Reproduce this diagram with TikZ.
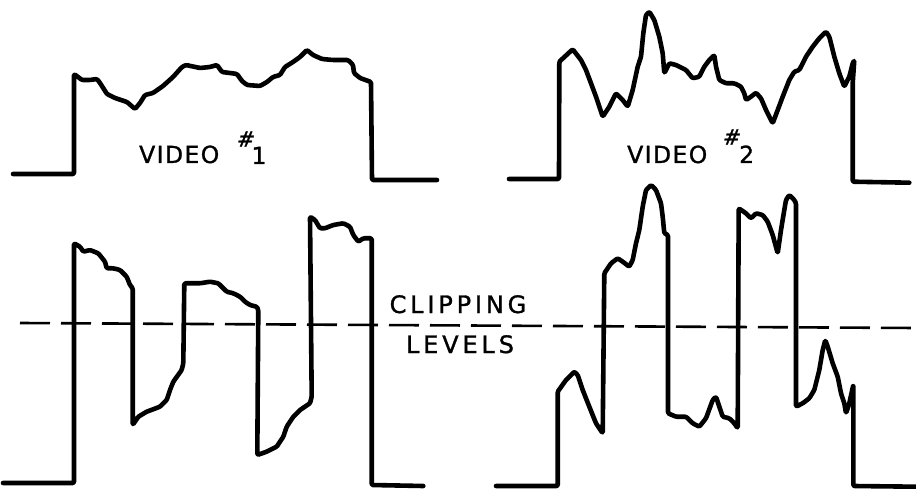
\documentclass[tikz,border=0pt]{standalone}
\usepackage{fontspec}
\setmainfont{DejaVu Sans}
\newfontfamily\lblfont[LetterSpace=6,FakeBold=1.2]{DejaVu Sans}
\newfontfamily\clipfont[LetterSpace=16,FakeBold=1.2]{DejaVu Sans}
\newfontfamily\hashfont[FakeBold=1.5,FakeSlant=0.15]{DejaVu Sans}
\begin{document}
\begin{tikzpicture}[x=1pt,y=-1pt,
  wave/.style={line width=4.6pt,line join=round,line cap=round,rounded corners=1.2pt},
  clipline/.style={line width=2.6pt,dash pattern=on 30pt off 11pt},
  lbl/.style={inner sep=0pt,font=\lblfont\fontsize{23.5}{24}\selectfont},
  cliplbl/.style={inner sep=0pt,font=\clipfont\fontsize{24}{25}\selectfont},
  sup/.style={inner sep=0pt,font=\hashfont\fontsize{21}{22}\selectfont}]
\useasboundingbox (0,0) rectangle (916,489);
\fill[white] (0,0) rectangle (916,489);

% ---------- VIDEO #1 ----------
\draw[wave] (13,174) -- (74,174) -- (74,74) -- (82,80) -- (90,80) -- (97,79) -- (100,83)
  -- (107,94) -- (115,98) -- (127,102) -- (135,109) -- (140,103) -- (145,95) -- (153,93)
  -- (163,86) -- (173,77) -- (182,67) -- (186,65) -- (200,68) -- (210,67) -- (217,65)
  -- (222,72) -- (230,73) -- (237,74) -- (242,81) -- (247,85) -- (260,86) -- (267,82)
  -- (273,77) -- (280,75) -- (285,67) -- (293,62) -- (300,57) -- (307,50) -- (313,55)
  -- (322,59) -- (333,60) -- (348,60) -- (353,65) -- (354,73) -- (360,78) -- (371,82)
  -- (372,180) -- (437,180);
\node[lbl,anchor=base west] (v1) at (139,163) {VIDEO};
\node[sup] (h1) at (245,139) {\#};
\node[lbl,anchor=base] (n1) at (259,164) {1};

% ---------- VIDEO #2 ----------
\draw[wave] (509,179) -- (559,179) -- (559.3,61.7) -- (572.7,49.3) -- (581,60) -- (586,70)
  -- (591,83.3) -- (596,96.7) -- (602.7,116.7) -- (609.3,106.7) -- (616,93.3) -- (622.7,100)
  -- (627.7,106.7) -- (632.7,90) -- (637.7,66.7) -- (641,56.7) -- (643.3,33.3) -- (646,15)
  -- (649.3,11.7) -- (654.3,20) -- (659.3,36.7) -- (662.7,53.3) -- (664.3,73.3) -- (669.3,63.3)
  -- (676,65) -- (686,70) -- (692.7,78.3) -- (699.3,76.7) -- (704.3,66.7) -- (709.3,60)
  -- (714.3,55) -- (716,66.7) -- (719.3,80) -- (726,83.3) -- (734.3,83.3) -- (741,86.7)
  -- (744.3,93.3) -- (746,100) -- (751,96.7) -- (756,92.7) -- (761,98.3) -- (766,110)
  -- (772.7,123.3) -- (777.7,110) -- (782.7,96.7) -- (789.3,80) -- (794.3,71.7) -- (799.3,70)
  -- (806,56.7) -- (812.7,46.7) -- (819.3,38.3) -- (826,31.7) -- (829.3,36.7) -- (834.3,56.7)
  -- (839.3,73.3) -- (844.3,86.7) -- (849.3,76.7) -- (852.7,63.3) -- (854.3,60)
  -- (852.7,83.3) -- (852.7,181.7) -- (909.3,182.7);
\node[lbl,anchor=base west] (v2) at (627,163) {VIDEO};
\node[sup] (h2) at (731,137) {\#};
\node[lbl,anchor=base west] (n2) at (739,163) {2};

% ---------- clipped #1 ----------
\draw[wave] (3,483) -- (74,483) -- (74,243.3) -- (80,246.7) -- (83.3,251.7) -- (90,250)
  -- (98.3,253.3) -- (105,261.7) -- (106.7,268.3) -- (113.3,268.3) -- (120,270) -- (126.7,276.7)
  -- (130,285) -- (132.7,288.3) -- (132.7,425) -- (138.3,416.7) -- (146.7,411.7) -- (160,406.7)
  -- (166.7,400) -- (170,390) -- (173.3,381.7) -- (181.7,370) -- (183.3,363.3) -- (184.3,283.3)
  -- (200,283.3) -- (210,281.7) -- (218.3,283.3) -- (223.3,288.3) -- (226.7,291.7) -- (233.3,293.3)
  -- (240,296.7) -- (245,301.7) -- (250,305) -- (256.7,306.7) -- (258.3,310) -- (257.3,455)
  -- (266.7,451.7) -- (276.7,446.7) -- (283.3,436.7) -- (286.7,426.7) -- (293.3,416.7) -- (300,410)
  -- (310,403.3) -- (311.7,396.7) -- (310,216.7) -- (315,220) -- (320,228.3) -- (325,228.3)
  -- (333.3,225) -- (343.3,223.3) -- (350,226.7) -- (353.3,235) -- (358.3,241.7) -- (363.3,238.3)
  -- (371.7,238.3) -- (371.7,485) -- (423.3,486);

% ---------- clipped #2 ----------
\draw[wave] (496,486) -- (557.7,486) -- (557.7,391.7) -- (566,380) -- (574.3,371.7) -- (577.7,375)
  -- (582.7,390) -- (589.3,406.7) -- (596,423.3) -- (602.7,433.3) -- (604.3,273.3) -- (611,263.3)
  -- (617.7,258.3) -- (622.7,261.7) -- (629.3,266.7) -- (632.7,260) -- (636,243.3) -- (639.3,230)
  -- (642.7,206.7) -- (646,190) -- (651,185) -- (656,190) -- (661,203.3) -- (662.7,216.7)
  -- (664.3,233.3) -- (668,235) -- (668,413.3) -- (676,416.7) -- (686,416.7) -- (692.7,423.3)
  -- (699.3,426.7) -- (706,418.3) -- (712.7,400) -- (716,396.7) -- (719.3,406.7) -- (722.7,416.7)
  -- (729.3,418.3) -- (734.3,423.3) -- (737.7,428.3) -- (738.7,208.3) -- (746,213.3) -- (751,218.3)
  -- (756,213.3) -- (762.7,215) -- (767.7,221.7) -- (772.7,235) -- (777.7,253.3) -- (781,230)
  -- (784.3,210) -- (786,200) -- (789.3,195) -- (794.3,200) -- (796,203.3) -- (796,406.7)
  -- (802.7,403.3) -- (809.3,398.3) -- (814.3,390) -- (819.3,370) -- (822.7,350) -- (825.3,340)
  -- (827.7,346.7) -- (832.7,363.3) -- (837.7,376.7) -- (841,393.3) -- (844.3,403.3) -- (846,413.3)
  -- (849.3,403.3) -- (853.3,385) -- (853.3,486) -- (916,486.7);

% ---------- clipping level ----------
\coordinate (cl0) at (20,323);
\coordinate (cl1) at (916,328);
\draw[clipline] (cl0) -- (cl1);
\node[cliplbl,anchor=base] (clip) at (458,313) {CLIPPING};
\node[cliplbl,anchor=base] (lev) at (460,353) {LEVELS};
\end{tikzpicture}
\end{document}
